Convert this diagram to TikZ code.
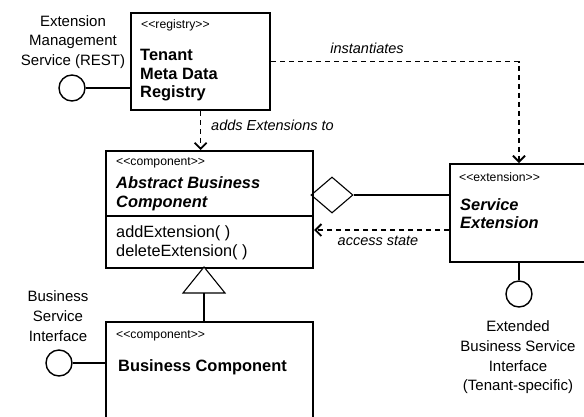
\documentclass[tikz,border=0pt]{standalone}
\usepackage{fontspec}
\setmainfont{Liberation Sans}
\usetikzlibrary{arrows.meta,shapes.geometric}
\begin{document}
\begin{tikzpicture}[x=1pt,y=-1pt,
  box/.style={draw, line width=2.2pt, anchor=north west, inner sep=0pt},
  conn/.style={line width=1.1pt},
  dep/.style={line width=1.1pt, dash pattern=on 5pt off 4pt, -{Straight Barb[length=6pt,width=12pt,line width=1.8pt]}},
  lolli/.style={draw, circle, line width=1.4pt, minimum size=26pt, inner sep=0pt},
  stereo/.style={font=\fontsize{12.2}{14}\selectfont, anchor=west, inner sep=0pt},
  title/.style={font=\fontsize{16.4}{18.5}\selectfont\bfseries, anchor=west, align=left, inner sep=0pt},
  meth/.style={font=\fontsize{16.3}{18.5}\selectfont, anchor=west, align=left, inner sep=0pt},
  lbl/.style={font=\fontsize{15}{19.7}\selectfont, align=center, inner sep=0pt},
  elabel/.style={font=\fontsize{14.5}{16}\selectfont\itshape, inner sep=0pt}
]
\useasboundingbox (0,0) rectangle (584,416);
\clip (0,0) rectangle (584,416);

% boxes
\node[box, minimum width=139pt, minimum height=97pt] (reg) at (130,12) {};
\node[box, minimum width=207pt, minimum height=117pt] (abs) at (105,150) {};
\node[box, minimum width=170pt, minimum height=98pt] (ext) at (449,163) {};
\node[box, minimum width=207pt, minimum height=115pt] (bus) at (105,321) {};

% divider in abstract component
\coordinate (divL) at (abs.west |- 0,216);
\coordinate (divR) at (abs.east |- 0,216);
\draw[conn] (divL) -- (divR);

% texts in boxes
\node[stereo] (regS) at (141,25) {<{}<registry>{}>};
\node[title] (regT) at (140,75.5) {Tenant\\Meta Data\\Registry};

\node[stereo] (absS) at (116,163) {<{}<component>{}>};
\node[title, font=\fontsize{16.4}{18.5}\selectfont\bfseries\itshape] (absT) at (116,194) {Abstract Business\\Component};
\node[meth] (absM) at (116,243) {addExtension( )\\deleteExtension( )};

\node[stereo] (extS) at (459,177) {<{}<extension>{}>};
\node[title, font=\fontsize{16.4}{18.5}\selectfont\bfseries\itshape] (extT) at (460,213.5) {Service\\Extension};

\node[stereo] (busS) at (116,336) {<{}<component>{}>};
\node[title] (busT) at (118,367) {Business Component};

% lollipops
\node[lolli] (regI) at (72,88) {};
\draw[conn] (regI.east) -- (regI.east -| reg.west);
\node[lbl] (regL) at (73,42) {Extension\\Management\\Service (REST)};

\node[lolli] (busI) at (59,363) {};
\draw[conn] (busI.east) -- (busI.east -| bus.west);
\node[lbl] (busL) at (58,316) {Business\\Service\\Interface};

\node[lolli] (extI) at (519,294) {};
\draw[conn] (extI.north |- ext.south) -- (extI.north);
\node[lbl] (extL) at (518,357.5) {Extended\\Business Service\\Interface\\(Tenant-specific)};

% dependencies
\coordinate (instEnd) at (519,163);
\draw[dep] (reg.east) -| (instEnd);
\node[elabel] (instL) at (367,48) {instantiates};

\draw[dep] (reg.south) -- (reg.south |- abs.north);
\node[elabel, anchor=west] (addL) at (211,125) {adds Extensions to};

\coordinate (accStart) at (ext.west |- 0,230);
\draw[dep] (accStart) -- (accStart -| abs.east);
\node[elabel] (accL) at (378,241) {access state};

% aggregation
\node[draw, diamond, line width=1.1pt, minimum width=42pt, minimum height=36pt, inner sep=0pt] (dia) at (332,195) {};
\draw[conn] (dia.east) -- (dia.east -| ext.west);

% generalization
\coordinate (gtip) at (204,267);
\coordinate (gR) at (225,293);
\coordinate (gL) at (183,293);
\coordinate (gB) at (204,293);
\draw[line width=1.1pt, fill=white] (gtip) -- (gR) -- (gL) -- cycle;
\draw[conn] (gB) -- (gB |- bus.north);
\end{tikzpicture}
\end{document}
